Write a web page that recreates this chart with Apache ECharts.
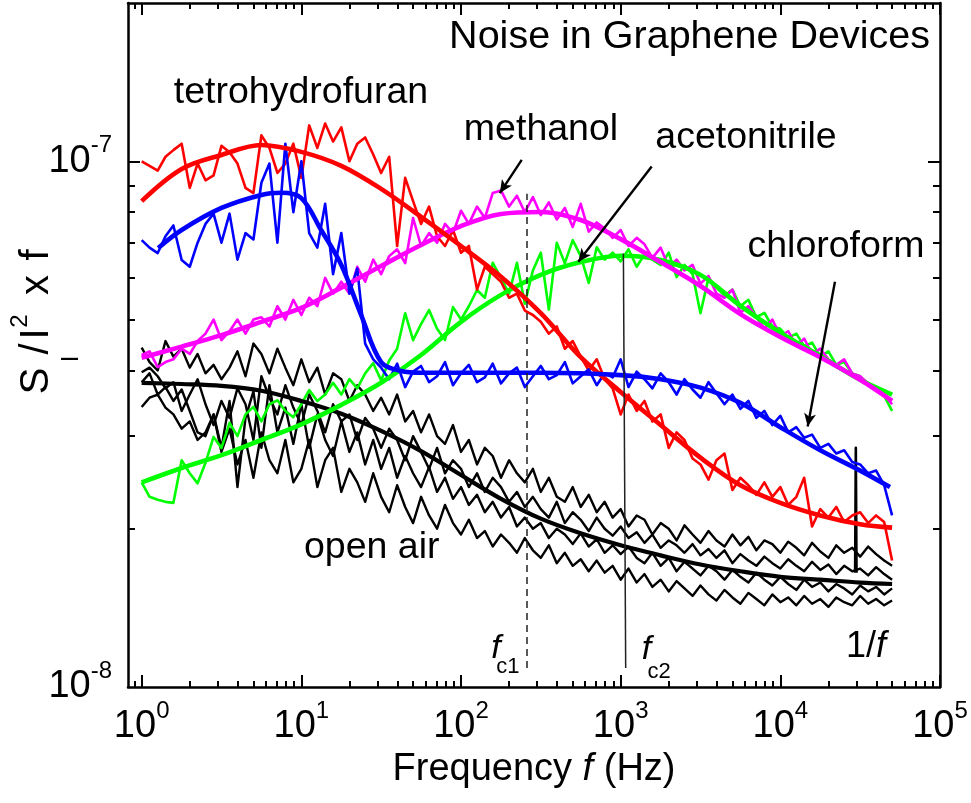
<!DOCTYPE html>
<html>
<head>
<meta charset="utf-8">
<script src="https://cdn.jsdelivr.net/npm/echarts@6.0.0/dist/echarts.min.js"></script>
<style>html,body{margin:0;padding:0;background:#ffffff;}#chart{width:971px;height:803px;}</style>
</head>
<body>
<div id="chart"></div>
<script>
// ---------------- DATA (S_I/I^2 x f values in units of 1e-8) ----------------
const freqs = [
  1, 1.12, 1.26, 1.41, 1.58, 1.78, 2, 2.24, 2.51, 2.82, 3.16, 3.55, 3.98, 4.47, 5.01, 5.62, 6.31, 7.08, 7.94, 8.91,
  10, 11.2, 12.6, 14.1, 15.8, 17.8, 20, 22.4, 25.1, 28.2, 31.6, 35.5, 39.8, 44.7, 50.1, 56.2, 63.1, 70.8, 79.4, 89.1,
  100, 112, 126, 141, 158, 178, 200, 224, 251, 282, 316, 355, 398, 447, 501, 562, 631, 708, 794, 891,
  1000, 1120, 1260, 1410, 1580, 1780, 2000, 2240, 2510, 2820, 3160, 3550, 3980, 4470, 5010, 5620, 6310, 7080, 7940, 8910,
  10000, 11200, 12600, 14100, 15800, 17800, 20000, 22400, 25100, 28200, 31600, 35500, 39800, 44700, 50100
];
const thfVals = [
  10.0, 9.8, 9.6, 10.2, 10.5, 10.8, 8.9, 9.9, 9.2, 9.4,
  10.7, 10.4, 9.9, 8.9, 8.7, 11.2, 10.6, 9.5, 9.9, 10.8,
  9.3, 11.7, 10.6, 11.8, 10.9, 11.6, 10.0, 10.8, 11.1, 10.3,
  9.5, 10.2, 6.9, 9.3, 8.4, 7.6, 8.2, 7.2, 6.9, 7.4,
  6.7, 6.9, 5.7, 6.3, 6.1, 5.9, 5.5, 5.6, 5.2, 5.1,
  4.95, 4.7, 4.85, 4.4, 4.55, 4.25, 4.0, 4.2, 3.85, 3.7,
  3.3, 3.6, 3.35, 3.5, 3.2, 3.3, 2.85, 3.05, 2.95, 2.72,
  2.65, 2.48, 2.7, 2.78, 2.37, 2.5, 2.42, 2.32, 2.45, 2.3,
  2.4, 2.22, 2.3, 2.5, 2.02, 2.18, 2.1, 2.2, 2.06, 2.12,
  2.15, 2.05, 2.12, 2.06, 1.74
];
const chlVals = [
  7.08, 6.85, 6.69, 7.2, 7.55, 6.49, 6.3, 7.0, 7.6, 7.95,
  7.0, 7.95, 6.5, 7.3, 7.1, 9.1, 9.9, 7.0, 10.8, 8.0,
  10.0, 7.3, 6.85, 8.3, 6.1, 7.3, 5.6, 6.25, 4.5, 4.2,
  4.05, 3.85, 4.12, 3.72, 3.98, 4.08, 3.8, 3.9, 4.15, 3.75,
  3.95, 4.1, 3.8, 3.88, 4.12, 3.78, 3.95, 4.05, 3.72, 3.9,
  4.08, 3.85, 3.92, 4.15, 3.78, 3.9, 4.02, 3.75, 3.95, 3.88,
  4.2, 3.72, 3.98, 3.85, 3.7, 3.95, 3.8, 3.6, 3.85, 3.68,
  3.55, 3.8, 3.62, 3.45, 3.6, 3.38, 3.5, 3.25, 3.35, 3.15,
  3.28, 3.05, 3.12, 2.98, 3.02, 2.85, 2.9, 2.78, 2.82, 2.68,
  2.65, 2.55, 2.58, 2.42, 2.12
];
const metVals = [
  4.28, 4.35, 4.06, 4.15, 4.2, 4.4, 4.3, 4.55, 4.7, 5.0,
  4.57, 4.75, 5.0, 4.7, 5.0, 5.05, 4.85, 5.3, 5.0, 5.45,
  5.1, 5.5, 5.3, 6.0, 5.6, 5.9, 5.6, 6.3, 5.9, 6.5,
  6.1, 6.6, 6.8, 6.4, 7.8, 6.9, 7.3, 7.0, 7.6, 7.3,
  8.05, 7.6, 8.2, 7.8, 8.7, 8.8, 8.2, 8.6, 8.0, 8.55,
  7.9, 8.35, 7.75, 8.15, 7.5, 8.3, 7.35, 7.65, 7.45, 7.15,
  7.4, 6.9, 7.15, 6.95, 6.55, 6.85, 6.3, 6.5, 6.2, 6.35,
  5.85, 6.05, 5.6, 5.5, 5.7, 5.15, 5.3, 5.05, 4.8, 5.0,
  4.65, 4.75, 4.45, 4.6, 4.3, 4.4, 4.2, 4.1, 4.2, 3.95,
  3.9, 3.78, 3.72, 3.6, 3.45
];
const aceVals = [
  2.45, 2.3, 2.27, 2.25, 2.24, 2.7, 2.55, 2.44, 2.67, 2.99,
  2.85, 3.18, 3.0, 3.3, 3.41, 3.2, 3.45, 3.51, 3.35, 3.26,
  3.45, 3.67, 3.5, 3.6, 3.79, 3.6, 3.85, 3.7, 3.95, 4.13,
  3.83, 4.18, 4.4, 5.14, 4.57, 4.9, 5.21, 4.8, 4.57, 5.28,
  5.0, 5.3, 5.69, 5.5, 6.41, 6.0, 5.6, 6.41, 5.36, 6.2,
  6.7, 5.22, 7.0, 6.4, 7.08, 6.6, 5.87, 6.86, 6.5, 6.7,
  6.45, 6.8, 6.3, 6.65, 6.5, 6.35, 6.7, 6.02, 6.35, 6.1,
  5.14, 6.0, 5.75, 5.55, 5.7, 5.3, 5.45, 5.05, 5.15, 4.85,
  4.8, 4.62, 4.7, 4.45, 4.52, 4.25, 4.35, 4.1, 4.15, 3.95,
  3.9, 3.75, 3.72, 3.58, 3.35
];
const air1Vals = [
  4.42, 4.15, 4.0, 4.55, 4.25, 4.4, 4.05, 4.3, 3.95, 4.1,
  3.85, 4.05, 4.35, 3.9, 4.5, 4.3, 3.95, 4.4, 4.05, 3.75,
  4.2, 3.8, 4.05, 3.6, 3.95, 3.85, 3.5, 3.75, 3.6, 3.35,
  3.55, 3.3, 3.6, 3.2, 3.35, 3.05, 3.3, 3.0, 2.9, 3.15,
  2.8, 2.95, 2.65, 2.85, 2.75, 2.5, 2.7, 2.55, 2.45, 2.6,
  2.35, 2.5, 2.3, 2.25, 2.4, 2.2, 2.32, 2.15, 2.25, 2.1,
  2.18, 2.02, 2.12, 2.08, 1.95, 2.05, 2.0, 1.9, 2.03, 1.95,
  1.88, 1.98, 1.9, 1.85, 1.95, 1.86, 1.93, 1.82, 1.9, 1.87,
  1.8, 1.89, 1.84, 1.78, 1.88, 1.81, 1.76, 1.86, 1.8, 1.84,
  1.77, 1.85, 1.79, 1.74, 1.7
];
const air2Vals = [
  3.97, 4.05, 3.9, 3.7, 3.8, 3.35, 3.6, 3.85, 3.45, 3.15,
  3.5, 3.25, 3.7, 3.45, 2.95, 3.9, 3.55, 3.3, 3.75, 3.4,
  3.15, 3.6, 3.35, 3.05, 3.45, 3.2, 3.3, 2.95, 3.25, 3.1,
  2.85, 3.1, 2.95, 2.7, 3.0, 2.8, 2.6, 2.85, 2.55, 2.7,
  2.6, 2.4, 2.55, 2.35, 2.5, 2.4, 2.25, 2.35, 2.2, 2.3,
  2.18, 2.1, 2.25, 2.05, 2.15, 2.08, 1.98, 2.1, 2.0, 1.94,
  2.02, 1.92, 1.97, 1.88, 1.95, 1.84, 1.9, 1.86, 1.8, 1.87,
  1.78, 1.83, 1.76, 1.82, 1.72, 1.79, 1.74, 1.7, 1.77, 1.72,
  1.68, 1.75, 1.7, 1.66, 1.73, 1.67, 1.71, 1.64, 1.7, 1.66,
  1.68, 1.63, 1.69, 1.64, 1.6
];
const air3Vals = [
  3.41, 3.55, 3.6, 3.4, 3.3, 3.1, 3.2, 2.95, 3.05, 3.3,
  2.85, 3.5, 2.4, 3.25, 3.65, 2.85, 3.75, 3.05, 3.4, 2.9,
  3.45, 2.85, 3.3, 2.95, 2.75, 3.2, 2.8, 3.05, 2.65, 2.95,
  2.6, 2.85, 2.5, 2.75, 2.55, 2.4, 2.62, 2.35, 2.5, 2.28,
  2.4, 2.22, 2.32, 2.15, 2.25, 2.1, 2.2, 2.02, 2.1, 2.0,
  2.05, 1.92, 2.0, 1.95, 1.87, 1.96, 1.85, 1.91, 1.8, 1.86,
  1.79, 1.85, 1.76, 1.72, 1.8, 1.7, 1.76, 1.66, 1.73, 1.68,
  1.63, 1.7, 1.66, 1.6, 1.67, 1.62, 1.58, 1.65, 1.6, 1.56,
  1.62, 1.57, 1.53, 1.6, 1.55, 1.58, 1.52, 1.57, 1.54, 1.5,
  1.56, 1.52, 1.55, 1.5, 1.54
];
const air4Vals = [
  3.8, 3.95, 3.6, 3.72, 3.5, 3.68, 3.35, 3.05, 3.0, 3.3,
  2.8, 3.1, 2.65, 2.95, 2.5, 3.05, 2.7, 2.55, 2.95, 2.45,
  2.6, 2.95, 2.4, 2.7, 2.85, 2.35, 2.6, 2.45, 2.25, 2.55,
  2.3, 2.15, 2.42, 2.2, 2.05, 2.3, 2.12, 2.0, 2.22, 2.05,
  1.95, 2.08, 1.92, 1.98, 1.85, 1.95, 1.88, 1.8, 1.92, 1.82,
  1.76, 1.86, 1.72, 1.8, 1.7, 1.75, 1.66, 1.74, 1.65, 1.7,
  1.6, 1.68, 1.58, 1.64, 1.55, 1.6, 1.52, 1.59, 1.54, 1.49,
  1.56, 1.5, 1.46, 1.53, 1.48, 1.44, 1.51, 1.47, 1.43, 1.5,
  1.45, 1.48, 1.43, 1.49, 1.44, 1.47, 1.42, 1.48, 1.45, 1.43,
  1.49, 1.44, 1.47, 1.43, 1.46
];
const spikeFreqs = [29400, 29700, 30000];
const spikeVals = [1.65, 2.85, 1.65];

// fitted curves
const fitFreqs = [1, 1.78, 3.16, 5.62, 10, 17.8, 31.6, 56.2, 100, 178, 316, 562, 1000, 1778, 3162, 5623, 10000, 17783, 31623, 50119];
const thfFit = [8.40, 9.67, 10.28, 10.74, 10.42, 9.80, 8.86, 7.84, 6.90, 6.03, 5.14, 4.24, 3.64, 3.15, 2.73, 2.42, 2.24, 2.12, 2.04, 2.01];
const metFit = [4.23, 4.44, 4.67, 4.95, 5.26, 5.75, 6.32, 6.93, 7.53, 7.94, 8.01, 7.73, 7.11, 6.43, 5.79, 5.12, 4.63, 4.24, 3.84, 3.50];
const aceFit = [2.45, 2.61, 2.76, 2.95, 3.16, 3.44, 3.79, 4.28, 4.95, 5.57, 6.08, 6.43, 6.61, 6.49, 6.08, 5.31, 4.72, 4.26, 3.84, 3.60];
const airFit = [3.79, 3.77, 3.74, 3.66, 3.50, 3.31, 3.07, 2.81, 2.53, 2.28, 2.09, 1.96, 1.86, 1.78, 1.71, 1.66, 1.62, 1.60, 1.58, 1.57];
const chlFitFreqs = [1.27, 1.78, 3.16, 5.62, 7.5, 10, 13.3, 17.8, 23.7, 31.6, 42.2, 56.2, 100, 316, 1000, 1778, 3162, 5623, 10000, 17783, 31623, 48600];
const chlFit = [6.84, 7.40, 8.15, 8.63, 8.71, 8.51, 7.40, 6.35, 5.10, 4.15, 3.99, 3.96, 3.96, 3.96, 3.92, 3.85, 3.71, 3.47, 3.12, 2.82, 2.58, 2.40];

// reference lines (f in Hz, level in units of 1e-8)
const floorLevel = 1.34;
const fc1Line = { f: [259, 259], v: [1.087, 8.67] };
const fc2Line = { f: [1075, 1040], v: [1.087, 6.68] };
// arrows: start -> end
const arrowFromF = [240, 1564, 21990];
const arrowFromV = [10.06, 9.77, 5.9];
const arrowToF = [175, 543, 14830];
const arrowToV = [8.7, 6.44, 3.13];

// axis ticks
const X_MAJOR = [1, 10, 100, 1000, 10000, 100000];
const X_MINOR = [0.9, 2, 3, 4, 5, 6, 7, 8, 9, 20, 30, 40, 50, 60, 70, 80, 90, 200, 300, 400, 500, 600, 700, 800, 900,
  2000, 3000, 4000, 5000, 6000, 7000, 8000, 9000, 20000, 30000, 40000, 50000, 60000, 70000, 80000, 90000];
const Y_MAJOR_LABELS = [1e-8, 1e-7];
const Y_MAJOR = [1e-7];
const Y_MINOR = [2e-8, 3e-8, 4e-8, 5e-8, 6e-8, 7e-8, 8e-8, 9e-8];

// annotation labels (anchor = text centre, data coords)
const noteTexts = ['Noise in Graphene Devices', 'tetrohydrofuran', 'methanol', 'acetonitrile', 'chloroform', 'open air'];
const noteF = [86500, 9.95, 317, 6095, 22320, 27.6];
const noteV = [17.2, 13.5, 11.47, 11.07, 6.88, 1.838];
const noteAlign = ['right', 'center', 'center', 'center', 'center', 'center'];
const noteSize = [39.5, 37.5, 37.5, 37.5, 37.5, 37.5];

// ---------------- CHART ----------------
const UNIT = 1e-8;
const X_MIN = 0.821, X_MAX = 1e5, Y_MIN = 1e-8, Y_MAX = 2e-7;
const FONT = '"Liberation Sans", Arial, Helvetica, sans-serif';
const RED = '#ff0000', BLUE = '#0000ff', MAG = '#ff00ff', GREEN = '#00ff00', BLACK = '#000000';

const pairs = (fs, vs) => fs.map((f, i) => [f, vs[i] * UNIT]);

function powLabel(v) {
  const e = Math.round(Math.log10(v));
  return '{b|10}{s|' + e + '}';
}
const TICK_RICH = {
  b: { fontSize: 38, lineHeight: 56, fontFamily: FONT, color: '#000' },
  s: { fontSize: 24, lineHeight: 24, verticalAlign: 'top', fontFamily: FONT, color: '#000' }
};

function xAx(pos, ticks, len, withLine, withLabels) {
  return {
    type: 'log', logBase: 10, min: X_MIN, max: X_MAX, position: pos, gridIndex: 0,
    axisLine: { show: withLine, onZero: false, lineStyle: { color: '#000', width: 2.5 } },
    axisTick: { show: true, inside: true, length: len, customValues: ticks, lineStyle: { color: '#000', width: 2 } },
    axisLabel: withLabels ? { show: true, customValues: X_MAJOR, margin: 12, formatter: powLabel, rich: TICK_RICH } : { show: false },
    splitLine: { show: false }, minorTick: { show: false }, minorSplitLine: { show: false }, silent: true
  };
}
function yAx(pos, ticks, len, withLine, withLabels) {
  return {
    type: 'log', logBase: 10, min: Y_MIN, max: Y_MAX, position: pos, gridIndex: 0,
    axisLine: { show: withLine, onZero: false, lineStyle: { color: '#000', width: 2.5 } },
    axisTick: { show: true, inside: true, length: len, customValues: ticks, lineStyle: { color: '#000', width: 2 } },
    axisLabel: withLabels ? { show: true, customValues: Y_MAJOR_LABELS, margin: 16, formatter: powLabel, rich: TICK_RICH } : { show: false },
    splitLine: { show: false }, minorTick: { show: false }, minorSplitLine: { show: false }, silent: true
  };
}

const xAxes = [
  Object.assign(xAx('bottom', X_MAJOR, 12, true, true), {
    name: '{n|Frequency }{i|f}{n| (Hz)}', nameLocation: 'middle', nameGap: 46,
    nameTextStyle: { rich: {
      n: { fontSize: 38, fontFamily: FONT, color: '#000', lineHeight: 40 },
      i: { fontSize: 38, fontFamily: FONT, fontStyle: 'italic', color: '#000', lineHeight: 40 }
    } }
  }),
  xAx('bottom', X_MINOR, 6, false, false),
  xAx('top', X_MAJOR, 12, true, false),
  xAx('top', X_MINOR, 6, false, false)
];
const yAxes = [
  yAx('left', Y_MAJOR, 12, true, true),
  yAx('left', Y_MINOR, 7, false, false),
  yAx('right', Y_MAJOR, 12, true, false),
  yAx('right', Y_MINOR, 7, false, false)
];

function lineSeries(name, fs, vs, color, width, smooth, z) {
  return {
    type: 'line', name: name, data: pairs(fs, vs), xAxisIndex: 0, yAxisIndex: 0,
    showSymbol: false, symbol: 'none', smooth: smooth ? 0.35 : false,
    lineStyle: { color: color, width: width, join: 'round' }, itemStyle: { color: color },
    silent: true, animation: false, clip: true, z: z
  };
}

const series = [
  lineSeries('open air 1', freqs, air1Vals, BLACK, 2.4, false, 2),
  lineSeries('open air 2', freqs, air2Vals, BLACK, 2.4, false, 2),
  lineSeries('open air 3', freqs, air3Vals, BLACK, 2.4, false, 2),
  lineSeries('open air 4', freqs, air4Vals, BLACK, 2.4, false, 2),
  lineSeries('open air spike', spikeFreqs, spikeVals, BLACK, 2.6, false, 2),
  lineSeries('acetonitrile', freqs, aceVals, GREEN, 2.6, false, 3),
  lineSeries('methanol', freqs, metVals, MAG, 2.6, false, 3),
  lineSeries('tetrohydrofuran', freqs, thfVals, RED, 2.6, false, 3),
  lineSeries('chloroform', freqs, chlVals, BLUE, 2.6, false, 3),
  lineSeries('open air fit', fitFreqs, airFit, BLACK, 4.2, true, 4),
  lineSeries('acetonitrile fit', fitFreqs, aceFit, GREEN, 4.6, true, 4),
  lineSeries('methanol fit', fitFreqs, metFit, MAG, 4.6, true, 4),
  lineSeries('tetrohydrofuran fit', fitFreqs, thfFit, RED, 4.6, true, 4),
  lineSeries('chloroform fit', chlFitFreqs, chlFit, BLUE, 4.6, true, 4)
];

const markData = [];
for (let i = 0; i < arrowFromF.length; i++) {
  markData.push([
    { coord: [arrowFromF[i], arrowFromV[i] * UNIT], symbol: 'none', lineStyle: { color: '#000', width: 2.4, type: 'solid' } },
    { coord: [arrowToF[i], arrowToV[i] * UNIT], symbol: 'arrow', symbolSize: [9, 13] }
  ]);
}
markData.push([
  { coord: [fc1Line.f[0], fc1Line.v[0] * UNIT], symbol: 'none', lineStyle: { color: '#222', width: 1.5, type: [7, 5] } },
  { coord: [fc1Line.f[1], fc1Line.v[1] * UNIT], symbol: 'none' }
]);
markData.push([
  { coord: [fc2Line.f[0], fc2Line.v[0] * UNIT], symbol: 'none', lineStyle: { color: '#222', width: 1.5, type: 'solid' } },
  { coord: [fc2Line.f[1], fc2Line.v[1] * UNIT], symbol: 'none' }
]);
markData.push({ yAxis: floorLevel * UNIT, symbol: 'none', lineStyle: { color: RED, width: 3, type: [14, 16] } });

series.push({
  type: 'line', name: 'annotations', data: [], xAxisIndex: 0, yAxisIndex: 0, silent: true, animation: false, z: 5,
  markLine: { silent: true, animation: false, symbol: ['none', 'none'], label: { show: false },
    emphasis: { disabled: true }, data: markData, z: 5 }
});

const chart = echarts.init(document.getElementById('chart'), null, { renderer: 'canvas' });
chart.setOption({
  backgroundColor: '#ffffff',
  animation: false,
  grid: { left: 128, right: 31, top: 3, bottom: 116, containLabel: false },
  xAxis: xAxes,
  yAxis: yAxes,
  series: series
});

// --------- text annotations anchored to data coordinates ---------
const toPx = (f, v) => chart.convertToPixel({ seriesIndex: 0 }, [f, v * UNIT]);
const graphics = [];
for (let i = 0; i < noteTexts.length; i++) {
  const p = toPx(noteF[i], noteV[i]);
  graphics.push({ type: 'text', x: p[0], y: p[1], silent: true, z: 10,
    style: { text: noteTexts[i], fontSize: noteSize[i], fontFamily: FONT, fill: '#000', align: noteAlign[i], verticalAlign: 'middle' } });
}
const italicMarks = [
  { t: 'f', f: 165.6, v: 1.181, size: 34, italic: true },
  { t: 'c1', f: 196.9, v: 1.092, size: 22, italic: false },
  { t: 'f', f: 1451, v: 1.176, size: 34, italic: true },
  { t: 'c2', f: 1738, v: 1.068, size: 22, italic: false }
];
italicMarks.forEach(m => {
  const p = toPx(m.f, m.v);
  graphics.push({ type: 'text', x: p[0], y: p[1], silent: true, z: 10,
    style: { text: m.t, fontSize: m.size, fontFamily: FONT, fontStyle: m.italic ? 'italic' : 'normal', fill: '#000', align: 'center', verticalAlign: 'middle' } });
});
const pOne = toPx(34400, 1.191);
graphics.push({ type: 'text', x: pOne[0], y: pOne[1], silent: true, z: 10,
  style: { text: '{n|1/}{i|f}', align: 'center', verticalAlign: 'middle',
    rich: { n: { fontSize: 36, fontFamily: FONT, fill: '#000' }, i: { fontSize: 36, fontFamily: FONT, fontStyle: 'italic', fill: '#000' } } } });

// y-axis title  S_I / I^2 x f  (rotated, built from glyph pieces)
const yTitle = [
  { t: 'S', x: 37, y: 381, s: 40 },
  { t: 'I', x: 71, y: 359, s: 24 },
  { t: '/', x: 37, y: 349, s: 40 },
  { t: 'I', x: 37, y: 334, s: 40 },
  { t: '2', x: 20, y: 321, s: 24 },
  { t: 'x', x: 37, y: 285, s: 40 },
  { t: 'f', x: 37, y: 255, s: 40 }
];
yTitle.forEach(g => {
  graphics.push({ type: 'text', x: g.x, y: g.y, rotation: Math.PI / 2, silent: true, z: 10,
    style: { text: g.t, fontSize: g.s, fontFamily: FONT, fill: '#000', align: 'center', verticalAlign: 'middle' } });
});
chart.setOption({ graphic: graphics });
</script>
</body>
</html>
